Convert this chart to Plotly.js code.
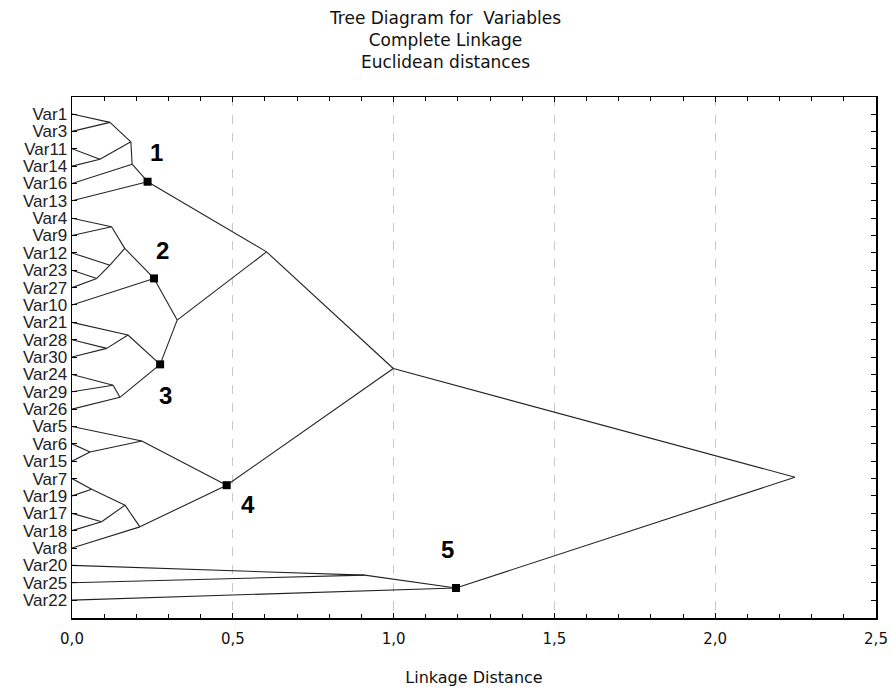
<!DOCTYPE html>
<html><head><meta charset="utf-8">
<script src="https://cdn.plot.ly/plotly-3.0.1.min.js"></script>
<style>html,body{margin:0;padding:0;background:#fff}#chart{width:891px;height:687px}</style>
</head><body><div id="chart"></div>
<script>
// Leaves, top to bottom
const leafLabels = ['Var1','Var3','Var11','Var14','Var16','Var13','Var4','Var9','Var12','Var23','Var27','Var10','Var21','Var28','Var30','Var24','Var29','Var26','Var5','Var6','Var15','Var7','Var19','Var17','Var18','Var8','Var20','Var25','Var22'];
// Merge steps (child ids are leaf labels or earlier merge ids)
const mergeIds   = ['A','B','C','D','N1','E','G','H','I','N2','K','J','L','M','N3','NN','O','S','R','U','V','T','W','N4','Q','X','N5','Z'];
const mergeLeft  = ['Var1','Var11','A','C','D','Var4','Var23','Var12','E','I','Var28','Var21','Var24','L','J','N2','N1','Var6','Var5','Var7','Var17','U','T','R','O','Var20','X','Q'];
const mergeRight = ['Var3','Var14','B','Var16','Var13','Var9','Var27','G','H','Var10','Var30','K','Var29','Var26','M','N3','NN','Var15','S','Var19','Var18','V','Var8','W','N4','Var25','Var22','N5'];
// Linkage distance of each merge
const mergeDist  = [0.118,0.087,0.183,0.187,0.235,0.123,0.077,0.118,0.164,0.255,0.108,0.174,0.128,0.149,0.274,0.327,0.605,0.056,0.217,0.061,0.092,0.165,0.211,0.481,0.999,0.910,1.194,2.248];
// Vertical position of each merge node (in leaf-index units)
const mergeY     = [0.48,2.61,1.60,2.89,3.90,6.49,9.47,8.71,7.74,9.47,13.50,12.73,15.62,16.32,14.42,11.87,7.94,19.47,18.83,21.61,23.49,22.53,23.78,21.38,14.66,26.56,27.30,20.92];
// Highlighted nodes and their labels
const markedNodes = ['N1','N2','N3','N4','N5'];
const markLabels  = ['1','2','3','4','5'];

const pos = {};
leafLabels.forEach((l,i)=>{pos[l]=[0,i];});
mergeIds.forEach((id,i)=>{pos[id]=[mergeDist[i],mergeY[i]];});

const lx=[], ly=[];
mergeIds.forEach((id,i)=>{
  [mergeLeft[i],mergeRight[i]].forEach(c=>{
    lx.push(pos[c][0], pos[id][0], null);
    ly.push(pos[c][1], pos[id][1], null);
  });
});

const mx = markedNodes.map(n=>pos[n][0]);
const my = markedNodes.map(n=>pos[n][1]);
const shifts = [[9,29],[8,28],[5,-31],[21,-19],[-8,38]];

const traces = [
  {type:'scatter',mode:'lines',x:lx,y:ly,line:{color:'#222',width:1.1},hoverinfo:'skip',showlegend:false},
  {type:'scatter',mode:'markers',x:mx,y:my,marker:{symbol:'square',size:8,color:'#000'},showlegend:false}
];

const annotations = markedNodes.map((n,i)=>({
  x:mx[i], y:my[i], text:markLabels[i], showarrow:false,
  xshift:shifts[i][0], yshift:shifts[i][1],
  font:{family:'Liberation Sans, Arial, sans-serif',size:24,color:'#000',weight:'bold'}
}));

const layout = {
  width:891, height:687,
  paper_bgcolor:'#fff', plot_bgcolor:'#fff',
  margin:{l:72,r:15,t:97,b:69},
  separators:',.',
  title:{text:'Tree Diagram for  Variables<br>Complete Linkage<br>Euclidean distances',
    font:{family:'DejaVu Sans, sans-serif',size:17,color:'#111'},
    x:0.5, xref:'container', xanchor:'center', y:0.965, yref:'container', yanchor:'middle', automargin:false},
  xaxis:{range:[0,2.5], dtick:0.5, tick0:0, tickformat:'.1f',
    ticks:'inside', ticklen:5, tickcolor:'#000',
    minor:{dtick:0.1, ticks:'inside', ticklen:4, tickcolor:'#000', showgrid:false},
    showline:true, linecolor:'#000', linewidth:1.5, mirror:'ticks',
    showgrid:true, gridcolor:'#c8c8c8', griddash:'dash', gridwidth:1,
    zeroline:false, ticklabelstandoff:6,
    tickfont:{family:'DejaVu Sans, sans-serif',size:15,color:'#111'},
    title:{text:'Linkage Distance',font:{family:'DejaVu Sans, sans-serif',size:16,color:'#111'},standoff:26}},
  yaxis:{range:[29.03,-0.98], tickvals:leafLabels.map((_,i)=>i), ticktext:leafLabels,
    ticks:'inside', ticklen:5, tickcolor:'#000',
    showline:true, linecolor:'#000', linewidth:1.5, mirror:'ticks',
    showgrid:false, zeroline:false,
    tickfont:{family:'Liberation Sans, Arial, sans-serif',size:17,color:'#222'}},
  annotations:annotations
};

Plotly.newPlot('chart', traces, layout, {displayModeBar:false, staticPlot:true});
</script></body></html>
